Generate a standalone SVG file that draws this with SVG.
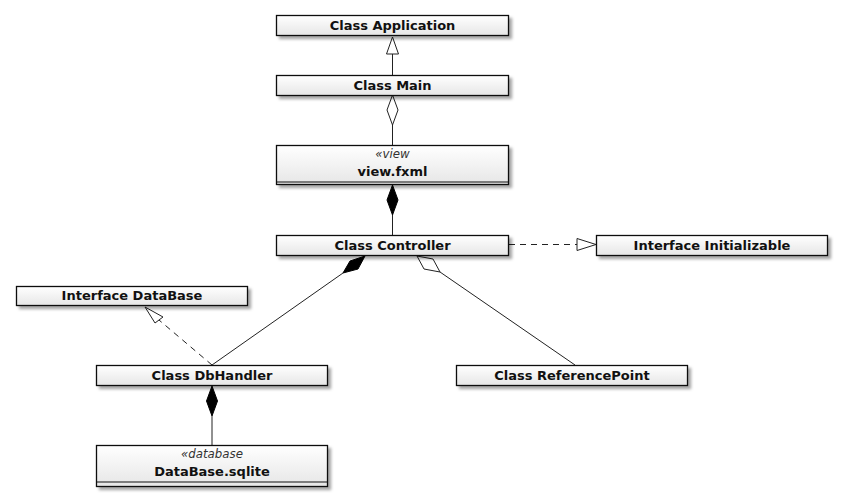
<svg xmlns="http://www.w3.org/2000/svg" width="843" height="501" viewBox="0 0 843 501">
<style>
.box{fill:url(#g);stroke:#111;stroke-width:1.3;filter:url(#sh)}
.t{font-family:"DejaVu Sans",Verdana,sans-serif;font-weight:bold;font-size:13px;fill:#111;text-anchor:middle}
.st{font-family:"DejaVu Sans",Verdana,sans-serif;font-style:italic;font-size:11.8px;fill:#333;text-anchor:middle}
.sep{stroke:#111;stroke-width:1.2}
.ln{stroke:#222;stroke-width:1;fill:none}
.dash{stroke:#222;stroke-width:1;fill:none;stroke-dasharray:6,5}
.hol{fill:#fff;stroke:#222;stroke-width:1}
.fil{fill:#000;stroke:#000;stroke-width:1}
</style>
<defs>
<linearGradient id="g" x1="0" y1="0" x2="0" y2="1">
<stop offset="0" stop-color="#ffffff"/>
<stop offset="1" stop-color="#e6e6e6"/>
</linearGradient>
<filter id="sh" x="-5%" y="-20%" width="112%" height="160%">
<feGaussianBlur in="SourceAlpha" stdDeviation="1.6"/>
<feOffset dx="3" dy="3" result="b"/>
<feComponentTransfer><feFuncA type="linear" slope="0.35"/></feComponentTransfer>
<feMerge><feMergeNode/><feMergeNode in="SourceGraphic"/></feMerge>
</filter>
</defs>
<rect width="843" height="501" fill="#fff"/>
<g id="connectors">
<line class="ln" x1="392.5" y1="54" x2="392.5" y2="75"/>
<polygon class="hol" points="392.5,37 386.5,54 398.5,54"/>
<line class="ln" x1="392.5" y1="125" x2="392.5" y2="145"/>
<polygon class="hol" points="392.5,95 398,110 392.5,125 387,110"/>
<line class="ln" x1="392.5" y1="215" x2="392.5" y2="235"/>
<polygon class="fil" points="392.5,185 398,200 392.5,215 387,200"/>
<line class="dash" x1="509" y1="244.5" x2="577" y2="244.5"/>
<polygon class="hol" points="596,244.5 577,238.5 577,250.5"/>
<line class="ln" x1="212" y1="365" x2="343" y2="273"/>
<polygon class="fil" points="365,256 358,269 343,273 350,261"/>
<line class="ln" x1="575" y1="365" x2="440" y2="272"/>
<polygon class="hol" points="417,256 433,259 440,272 424,269"/>
<line class="dash" x1="212" y1="365" x2="159" y2="320"/>
<polygon class="hol" points="145,307 163,317 155,323"/>
<line class="ln" x1="212" y1="416" x2="212" y2="445"/>
<polygon class="fil" points="212,386 217.5,401 212,416 206.5,401"/>
</g>
<g id="app"><rect class="box" x="276.5" y="15.5" width="232" height="20"/><text class="t" x="392.5" y="29.5">Class Application</text></g>
<g id="main"><rect class="box" x="276.5" y="75.5" width="232" height="20"/><text class="t" x="392.5" y="89.5">Class Main</text></g>
<g id="view"><rect class="box" x="276.5" y="145.5" width="232" height="39"/><line class="sep" x1="276.5" y1="182" x2="508.5" y2="182"/><text class="st" x="392.5" y="158">«view</text><text class="t" x="392.5" y="176">view.fxml</text></g>
<g id="controller"><rect class="box" x="276.5" y="235.5" width="232" height="20"/><text class="t" x="392.5" y="249.5">Class Controller</text></g>
<g id="initializable"><rect class="box" x="596.5" y="235.5" width="231" height="20"/><text class="t" x="712" y="249.5">Interface Initializable</text></g>
<g id="database-if"><rect class="box" x="16.5" y="286.5" width="231" height="19"/><text class="t" x="132" y="300">Interface DataBase</text></g>
<g id="dbhandler"><rect class="box" x="96.5" y="365.5" width="231" height="20"/><text class="t" x="212" y="379.5">Class DbHandler</text></g>
<g id="referencepoint"><rect class="box" x="456.5" y="365.5" width="231" height="20"/><text class="t" x="572" y="379.5">Class ReferencePoint</text></g>
<g id="sqlite"><rect class="box" x="96.5" y="445.5" width="231" height="41"/><line class="sep" x1="96.5" y1="482" x2="327.5" y2="482"/><text class="st" x="212" y="458">«database</text><text class="t" x="212" y="476">DataBase.sqlite</text></g>
</svg>
